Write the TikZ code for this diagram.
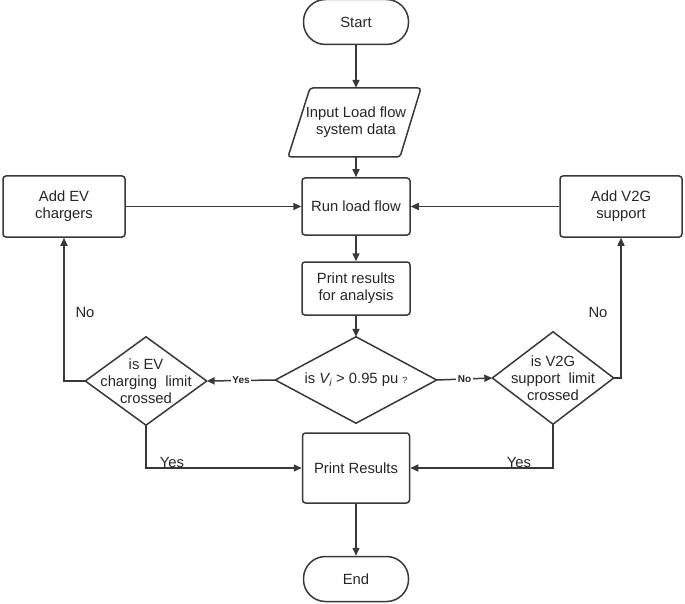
\documentclass[tikz,border=0pt]{standalone}
\usepackage{fontspec}
\setmainfont{Liberation Sans}
\usetikzlibrary{shapes.geometric,arrows.meta}
\begin{document}
\begin{tikzpicture}[x=1pt,y=-1pt,
  every node/.style={font=\fontsize{14.8}{17}\selectfont, align=center, text=black!85},
  ln/.style={draw=black!78, line width=1.5pt},
  arr/.style={ln, -{Triangle[length=8pt,width=7pt]}},
  box/.style={ln, rectangle, rounded corners=3pt, inner sep=0pt},
  term/.style={ln, rectangle, rounded corners=22pt, minimum width=105pt, minimum height=45pt, inner sep=0pt},
  dia/.style={rectangle, inner sep=0pt},
  lbl/.style={font=\fontsize{10}{12}\selectfont\bfseries, fill=white, inner sep=1.5pt}
]
\useasboundingbox (0,0) rectangle (685,604);
\node[term] (start) at (356,22) {Start};
\node[minimum width=110pt, minimum height=69pt, inner sep=0pt] (input) at (356,122.5) {Input Load flow\\system data};
\draw[ln, rounded corners=3pt] (310,88) -- (421,88) -- (400,157) -- (288,157) -- cycle;
\node[box, minimum width=108pt, minimum height=57pt] (run) at (356,206.5) {Run load flow};
\node[box, minimum width=108pt, minimum height=53pt] (pra) at (356,288.5) {Print results\\for analysis};
\node[dia, minimum width=161pt, minimum height=86pt] (vd) at (356,380) {is \textit{V\textsubscript{i}} > 0.95 pu {\fontsize{9}{10}\selectfont ?}};
\node[dia, minimum width=121pt, minimum height=88pt] (ev) at (146,381) {is EV\\charging\ \ limit\\crossed};
\node[dia, minimum width=121pt, minimum height=92pt] (v2g) at (553,378) {is V2G\\support\ \ limit\\crossed};
\foreach \n in {vd,ev,v2g}
  \draw[ln, line join=round] (\n.north) -- (\n.east) -- (\n.south) -- (\n.west) -- cycle;
\node[box, minimum width=122pt, minimum height=61pt] (addev) at (64,206.5) {Add EV\\chargers};
\node[box, minimum width=122pt, minimum height=61pt] (addv) at (621,206.5) {Add V2G\\support};
\node[box, minimum width=107pt, minimum height=70pt] (prr) at (356,468) {Print Results};
\node[term] (end) at (356,579) {End};

\draw[arr] (start) -- (input.north -| start);
\draw[arr] (input.south -| run) -- (run);
\draw[arr] (run) -- (pra);
\draw[arr] (pra) -- (vd.north);
\draw[arr] (addev) -- (run);
\draw[arr] (addv) -- (run);
\draw[arr] (vd.west) -- node[lbl] {Yes} (ev.east);
\draw[arr] (vd.east) -- node[lbl] {No} (v2g.west);
\draw[arr] (ev.west) -| (addev.south);
\draw[arr] (v2g.east) -| (addv.south);
\draw[arr] (ev.south) |- (prr.west);
\draw[arr] (v2g.south) |- (prr.east);
\draw[arr] (prr) -- (end);
\node at (85,312) {No};
\node at (598,312) {No};
\node at (172,462) {Yes};
\node at (519,462) {Yes};
\end{tikzpicture}
\end{document}
